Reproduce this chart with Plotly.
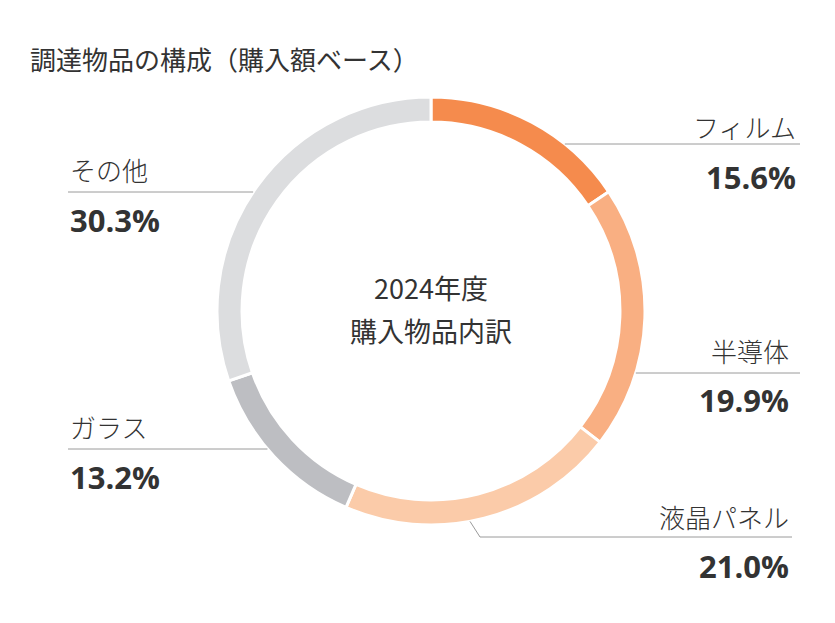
import math
import plotly.graph_objects as go

# ---- data ----
categories = ["フィルム", "半導体", "液晶パネル", "ガラス", "その他"]
shares = [15.6, 19.9, 21.0, 13.2, 30.3]
colors = ["#F58B4D", "#F9AF82", "#FBCBA9", "#BDBEC2", "#DCDDDF"]
title_text = "調達物品の構成（購入額ベース）"
center_lines = ["2024年度", "購入物品内訳"]

# ---- layout geometry (page pixels) ----
PAGE_W, PAGE_H = 835, 623
OFF = 8                      # body margin of the page
W, H = PAGE_W - 2 * OFF, PAGE_H - 2 * OFF
CX, CY = 431, 311            # donut centre (page coords, from top)
R_OUT = 214
HOLE = 0.883

# label placement: side, label y, leader y, percent y, text edge x, line far end x
label_layout = {
    "フィルム":   ("right", 127, 144, 177, 798, 800),
    "半導体":     ("right", 350, 373, 400, 791, 800),
    "液晶パネル": ("right", 516, 537, 566, 791, 792),
    "ガラス":     ("left", 426, 449, 477, 68, 68),
    "その他":     ("left", 169, 192, 220, 68, 68),
}

JP = "Noto Sans CJK JP"
TXT = "#333333"
LINE = "#9A9A9A"


def px(x):
    return (x - OFF) / W


def py(y):
    return 1 - (y - OFF) / H


fig = go.Figure(
    go.Pie(
        labels=categories,
        values=shares,
        sort=False,
        direction="clockwise",
        rotation=0,
        hole=HOLE,
        textinfo="none",
        hoverinfo="label+percent",
        marker=dict(colors=colors, line=dict(color="white", width=3)),
        domain=dict(
            x=[px(CX - R_OUT), px(CX + R_OUT)],
            y=[py(CY + R_OUT), py(CY - R_OUT)],
        ),
        showlegend=False,
    )
)

annotations = []
shapes = []

annotations.append(dict(
    text=title_text, x=px(28), y=py(58), xref="paper", yref="paper",
    xanchor="left", yanchor="middle", showarrow=False,
    font=dict(family=JP, size=26, color=TXT),
))
for i, line in enumerate(center_lines):
    annotations.append(dict(
        text=line, x=px(CX), y=py(287 + i * 43), xref="paper", yref="paper",
        xanchor="center", yanchor="middle", showarrow=False,
        font=dict(family=JP, size=27, color=TXT),
    ))

for cat, val in zip(categories, shares):
    side, ly, liney, pcty, edge, far = label_layout[cat]
    anchor = "right" if side == "right" else "left"
    annotations.append(dict(
        text=cat, x=px(edge), y=py(ly), xref="paper", yref="paper",
        xanchor=anchor, yanchor="middle", showarrow=False,
        font=dict(family=JP, size=26, color=TXT, weight=300),
    ))
    annotations.append(dict(
        text=f"{val:.1f}%", x=px(edge), y=py(pcty), xref="paper", yref="paper",
        xanchor=anchor, yanchor="middle", showarrow=False,
        font=dict(family="Open Sans", size=31, color=TXT, weight=700),
    ))
    dy = CY - liney
    if abs(dy) < R_OUT:
        dx = math.sqrt(R_OUT ** 2 - dy ** 2)
        ring_x = CX + dx if side == "right" else CX - dx
        shapes.append(dict(type="line", xref="paper", yref="paper",
                           x0=px(ring_x), y0=py(liney), x1=px(far), y1=py(liney),
                           line=dict(color=LINE, width=1)))
    else:
        # bend: diagonal from ring bottom to horizontal leader
        start_x = 480
        rx = 470
        ry = CY + math.sqrt(R_OUT ** 2 - (rx - CX) ** 2)
        shapes.append(dict(type="line", xref="paper", yref="paper",
                           x0=px(rx), y0=py(ry), x1=px(start_x), y1=py(liney),
                           line=dict(color=LINE, width=1)))
        shapes.append(dict(type="line", xref="paper", yref="paper",
                           x0=px(start_x), y0=py(liney), x1=px(far), y1=py(liney),
                           line=dict(color=LINE, width=1)))

fig.update_layout(
    width=W, height=H,
    margin=dict(l=0, r=0, t=0, b=0),
    paper_bgcolor="white", plot_bgcolor="white",
    annotations=annotations, shapes=shapes,
)

fig.write_html("out.html")
